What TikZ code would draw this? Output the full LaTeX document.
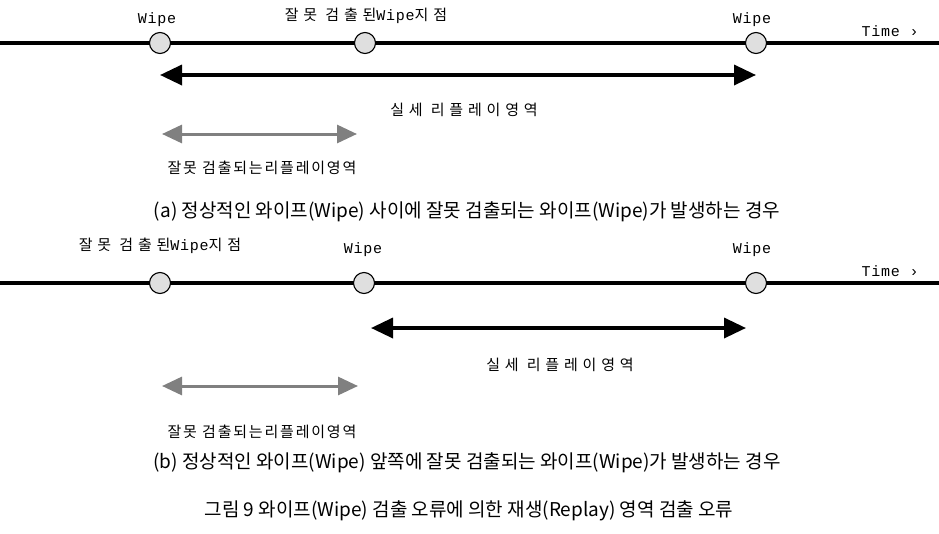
\documentclass[tikz,border=0pt]{standalone}
\usepackage{fontspec}
\setmainfont{Liberation Serif}
\newfontfamily\kr{Noto Sans CJK KR}
\newfontfamily\krA[LetterSpace=32]{Noto Sans CJK KR}
\newfontfamily\krB[LetterSpace=32]{Noto Sans CJK KR}
\newfontfamily\krC[LetterSpace=12]{Noto Sans CJK KR}
\newfontfamily\mono[LetterSpace=5]{Liberation Mono}
\usetikzlibrary{arrows.meta}
\begin{document}
\begin{tikzpicture}[x=1pt,y=-1pt,
  tl/.style={line width=3.2pt},
  pt/.style={circle,draw,line width=1.1pt,fill=gray!25,minimum size=21pt,inner sep=0pt},
  lbl/.style={font=\mono\fontsize{15}{16}\selectfont, inner sep=1pt},
  klblA/.style={font=\krA\fontsize{15}{17}\selectfont, inner sep=1pt},
  klblB/.style={font=\krB\fontsize{15}{17}\selectfont, inner sep=1pt},
  klblC/.style={font=\krC\fontsize{15}{17}\selectfont, inner sep=1pt},
  captext/.style={font=\kr\fontsize{19}{22}\selectfont, inner sep=1pt},
  real/.style={line width=3.5pt, {Triangle[length=22pt,width=20pt]}-{Triangle[length=22pt,width=20pt]}},
  fake/.style={line width=3pt, draw=black!50, {Triangle[length=20pt,width=18pt]}-{Triangle[length=20pt,width=18pt]}}]
\useasboundingbox (0,0) rectangle (939,533);

% ---------- panel (a) ----------
\coordinate (a0) at (0,43);
\coordinate (a1) at (939,43);
\draw[tl] (a0) -- (a1);
\node[pt] (pa1) at (160,43) {};
\node[pt] (pa2) at (365,43) {};
\node[pt] (pa3) at (756,43) {};
\node[lbl] (wa1) at (157,20) {Wipe};
\node[klblA] (wa2) at (366,16) {잘못 검출된{\mono\fontsize{15}{16}\selectfont Wipe}지점};
\node[lbl] (wa3) at (752,20) {Wipe};
\node[lbl] (ta) at (890,31) {Time ›};

\coordinate (ra1) at (160,75);
\coordinate (ra2) at (756,75);
\draw[real] (ra1) -- (ra2);
\node[klblB] (rla) at (464,110) {실세 리플레이영역};

\coordinate (fa1) at (162,134);
\coordinate (fa2) at (357,134);
\draw[fake] (fa1) -- (fa2);
\node[klblC] (fla) at (262,168) {잘못 검출되는리플레이영역};

\node[captext] (capa) at (467,212) {(a) 정상적인 와이프(Wipe) 사이에 잘못 검출되는 와이프(Wipe)가 발생하는 경우};

% ---------- panel (b) ----------
\coordinate (b0) at (0,283);
\coordinate (b1) at (939,283);
\draw[tl] (b0) -- (b1);
\node[pt] (pb1) at (160,283) {};
\node[pt] (pb2) at (364,283) {};
\node[pt] (pb3) at (756,283) {};
\node[klblA] (wb1) at (160,246) {잘못 검출된{\mono\fontsize{15}{16}\selectfont Wipe}지점};
\node[lbl] (wb2) at (363,250) {Wipe};
\node[lbl] (wb3) at (752,250) {Wipe};
\node[lbl] (tb) at (890,271) {Time ›};

\coordinate (rb1) at (371,328);
\coordinate (rb2) at (746,328);
\draw[real] (rb1) -- (rb2);
\node[klblB] (rlb) at (560,365) {실세 리플레이영역};

\coordinate (fb1) at (162,386);
\coordinate (fb2) at (358,386);
\draw[fake] (fb1) -- (fb2);
\node[klblC] (flb) at (262,432) {잘못 검출되는리플레이영역};

\node[captext] (capb) at (467,463) {(b) 정상적인 와이프(Wipe) 앞쪽에 잘못 검출되는 와이프(Wipe)가 발생하는 경우};

\node[captext] (fig) at (469,511) {그림 9 와이프(Wipe) 검출 오류에 의한 재생(Replay) 영역 검출 오류};
\end{tikzpicture}
\end{document}
